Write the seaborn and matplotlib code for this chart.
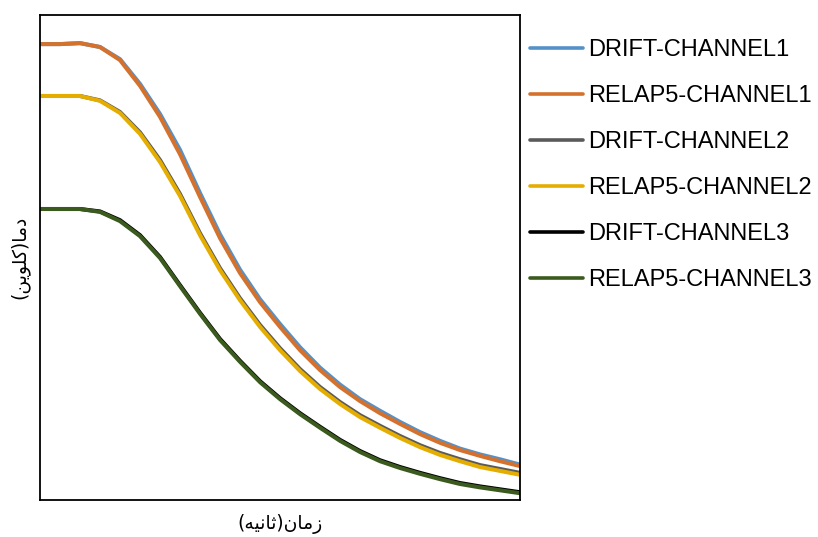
import numpy as np
import pandas as pd
import matplotlib
matplotlib.use("Agg")
import matplotlib.pyplot as plt
import seaborn as sns

# ---- data (arbitrary units) ----
time = [0, 5, 10, 15, 20, 25, 30, 35, 40, 45, 50, 55, 60, 65, 70, 75, 80,
        85, 90, 95, 100, 105, 110, 115, 120]

drift_ch1 = [94.0, 94.0, 94.2, 93.4, 90.9, 85.8, 79.6, 72.2, 63.3, 54.8, 47.5,
             41.4, 36.3, 31.5, 27.3, 23.8, 20.8, 18.4, 16.1, 14.0, 12.2, 10.6,
             9.4, 8.4, 7.3]
relap_ch1 = [94.0, 94.0, 94.2, 93.4, 90.7, 85.4, 79.0, 71.3, 62.5, 54.0, 46.8,
             40.8, 35.7, 30.9, 26.8, 23.3, 20.4, 17.9, 15.7, 13.6, 11.8, 10.3,
             9.1, 8.0, 7.0]
drift_ch2 = [83.3, 83.3, 83.3, 82.4, 80.0, 75.8, 70.1, 63.1, 55.0, 47.8, 41.6,
             36.1, 31.3, 27.0, 23.3, 20.2, 17.5, 15.3, 13.2, 11.3, 9.7, 8.4,
             7.2, 6.4, 5.6]
relap_ch2 = [83.3, 83.3, 83.3, 82.3, 79.8, 75.5, 69.7, 62.7, 54.6, 47.4, 41.2,
             35.7, 30.9, 26.6, 22.9, 19.8, 17.1, 14.9, 12.8, 10.9, 9.3, 8.0,
             6.8, 6.0, 5.2]
drift_ch3 = [60.0, 60.0, 60.0, 59.5, 57.7, 54.6, 50.1, 44.3, 38.6, 33.2, 28.7,
             24.5, 21.0, 17.9, 15.1, 12.4, 10.1, 8.2, 6.8, 5.6, 4.5, 3.5, 2.8,
             2.2, 1.6]
relap_ch3 = [60.0, 60.0, 60.0, 59.4, 57.5, 54.4, 49.9, 44.1, 38.4, 33.0, 28.5,
             24.3, 20.8, 17.7, 14.9, 12.2, 9.9, 8.0, 6.6, 5.4, 4.3, 3.3, 2.6,
             2.0, 1.4]

series_names = ["DRIFT-CHANNEL1", "RELAP5-CHANNEL1", "DRIFT-CHANNEL2",
                "RELAP5-CHANNEL2", "DRIFT-CHANNEL3", "RELAP5-CHANNEL3"]
series_values = [drift_ch1, relap_ch1, drift_ch2, relap_ch2, drift_ch3, relap_ch3]
colors = ["#5591C9", "#D4712C", "#5A5A5A", "#E5AD00", "#000000", "#3A5A1E"]

# Persian labels (pre-shaped presentation forms in visual order)
xlabel = "(" + "\uFEEA\uFEF4\uFEE7\uFE8E\uFE9B" + ")" + "\uFEE5\uFE8E\uFEE3\uFEAF"
ylabel = "(" + "\uFEE6\uFEF3\uFEEE\uFEE0\uFEDB" + ")" + "\uFE8E\uFEE3\uFEA9"

rows = []
for name, vals in zip(series_names, series_values):
    for t, v in zip(time, vals):
        rows.append({"time": t, "temp": v, "series": name})
df = pd.DataFrame(rows)

sns.set_style("white")
plt.rcParams["font.family"] = ["Liberation Sans", "DejaVu Sans"]
plt.rcParams["text.color"] = "black"
plt.rcParams["axes.labelcolor"] = "black"

fig = plt.figure(figsize=(8.18, 5.37), dpi=100)
ax = fig.add_axes([40 / 818, 1 - 500 / 537, 480 / 818, 485 / 537])

sns.lineplot(data=df, x="time", y="temp", hue="series", hue_order=series_names,
             palette=dict(zip(series_names, colors)), linewidth=2.9, ax=ax,
             legend=True)

ax.set_xlim(0, 120)
ax.set_ylim(0, 100)
ax.set_xticks([])
ax.set_yticks([])
for s in ax.spines.values():
    s.set_color("black")
    s.set_linewidth(1.3)

ax.set_xlabel(xlabel, fontsize=13.5, family=["DejaVu Sans"], labelpad=10,
              color="black")
ax.set_ylabel(ylabel, fontsize=13.5, family=["DejaVu Sans"], labelpad=8,
              color="black")

handles, labels = ax.get_legend_handles_labels()
ax.get_legend().remove()
leg = fig.legend(handles, labels, loc="upper left",
                 bbox_to_anchor=(530 / 818, 1 - 39 / 537),
                 frameon=False, fontsize=17, borderpad=0, borderaxespad=0,
                 handlelength=2.25, handletextpad=0.2, labelspacing=1.02)
for t in leg.get_texts():
    t.set_color("black")
for ln in leg.get_lines():
    ln.set_linewidth(2.6)

fig.savefig("out.png", dpi=100)
